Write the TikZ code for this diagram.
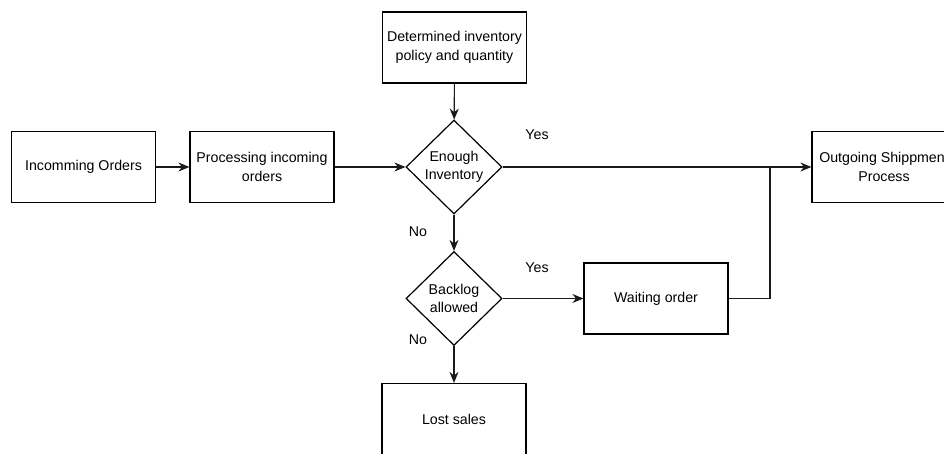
\documentclass[tikz,border=0pt]{standalone}
\usepackage{fontspec}
\setmainfont{Liberation Sans}
\usepackage{xcolor}
\usepackage{tikz}
\usetikzlibrary{arrows.meta,positioning,shapes.geometric}
\definecolor{lineink}{HTML}{000000}
\definecolor{connink}{HTML}{1A1A1A}
\tikzset{
  procbox/.style={draw=lineink,line width=1.2pt,fill=white,
      minimum width=144pt,minimum height=71pt,inner sep=2pt,align=center},
  decide/.style={diamond,draw=lineink,line width=1.2pt,fill=white,
      minimum width=96pt,minimum height=94pt,inner sep=0pt,align=center},
  flow/.style={draw=connink,line width=1.1pt,-{Stealth[length=11pt,width=9pt]}},
  plainflow/.style={draw=connink,line width=1.1pt},
  answer/.style={inner sep=0pt}
}
\begin{document}
\begin{tikzpicture}[x=1pt,y=-1pt,
    every node/.style={font=\fontsize{14.2}{18.5}\selectfont}]
\useasboundingbox (0,0) rectangle (944,453);
\clip (0,0) rectangle (944,453);
% boxes
\node[procbox] (incoming) at (83.5,167) {Incomming Orders};
\node[procbox] (processing) at (262,167) {Processing incoming\\orders};
\node[procbox] (policy) at (454.5,47.5) {Determined inventory\\policy and quantity};
\node[decide] (enough) at (454,167) {Enough\\Inventory};
\node[decide] (backlog) at (454,298.5) {Backlog\\allowed};
\node[procbox] (waiting) at (656,298.5) {Waiting order};
\node[procbox] (lost) at (454,419) {Lost sales};
\node[procbox] (outgoing) at (884,167) {Outgoing Shippment\\Process};
% connectors
\draw[flow] (incoming) -- (processing);
\draw[flow] (processing) -- (enough);
\draw[flow] (policy) -- (enough);
\draw[flow] (enough) -- (outgoing);
\draw[flow] (enough) -- (backlog);
\draw[flow] (backlog) -- (waiting);
\draw[flow] (backlog) -- (lost);
\coordinate (join) at (770,167);
\draw[plainflow] (waiting.east) -| (join);
% answers
\node[answer] (yesup) at (537,135) {Yes};
\node[answer] (noup) at (418,232) {No};
\node[answer] (yesdown) at (537,268) {Yes};
\node[answer] (nodown) at (418,340) {No};
\end{tikzpicture}
\end{document}
